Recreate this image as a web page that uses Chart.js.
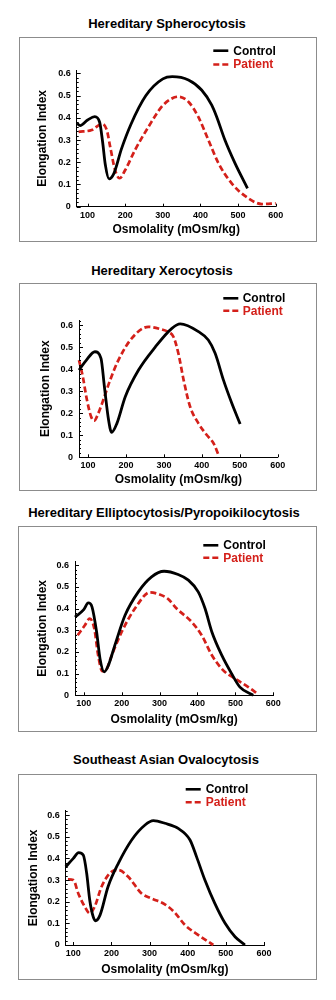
<!DOCTYPE html>
<html>
<head>
<meta charset="utf-8">
<script src="https://cdn.jsdelivr.net/npm/chart.js@4.4.1/dist/chart.umd.min.js"></script>
<style>
  body { margin: 0; background: #fff; width: 336px; height: 1000px; position: relative; font-family: "Liberation Sans", Arial, sans-serif; }
  .title { position: absolute; left: 0; width: 336px; text-align: center; font-weight: bold; font-size: 13px; line-height: 16px; color: #000; white-space: nowrap; }
  .box { position: absolute; border: 1px solid #8c8c8c; box-sizing: border-box; pointer-events: none; }
  canvas { position: absolute; }
</style>
</head>
<body>
<div class="title" style="top:16px;left:-1px">Hereditary Spherocytosis</div>
<canvas id="hs" width="298" height="205" style="left:19px;top:37px"></canvas>
<div class="box" style="left:19px;top:37px;width:298px;height:205px"></div>

<div class="title" style="top:263px;left:-6px">Hereditary Xerocytosis</div>
<canvas id="hx" width="298" height="208" style="left:19px;top:283px"></canvas>
<div class="box" style="left:19px;top:283px;width:298px;height:208px"></div>

<div class="title" style="top:505px;left:-4px">Hereditary Elliptocytosis/Pyropoikilocytosis</div>
<canvas id="he" width="299" height="206" style="left:18px;top:526px"></canvas>
<div class="box" style="left:18px;top:526px;width:299px;height:206px"></div>

<div class="title" style="top:752px;left:-2px">Southeast Asian Ovalocytosis</div>
<canvas id="sao" width="299" height="206" style="left:18px;top:774px"></canvas>
<div class="box" style="left:18px;top:774px;width:299px;height:206px"></div>

<script>
// tick labels
const xTicks = [100, 200, 300, 400, 500, 600];
const yTicks = [0, 0.1, 0.2, 0.3, 0.4, 0.5, 0.6];

// Hereditary Spherocytosis
const hsControlX = [72, 80, 100, 119, 132, 140, 147, 157, 170, 190, 215, 255, 300, 325, 368, 403, 430, 443, 465, 492, 525];
const hsControlY = [0.375, 0.365, 0.39, 0.405, 0.38, 0.29, 0.19, 0.125, 0.15, 0.26, 0.37, 0.50, 0.575, 0.585, 0.57, 0.525, 0.457, 0.405, 0.30, 0.195, 0.083];
const hsPatientX = [76, 111, 138, 151, 160, 173, 185, 200, 226, 262, 297, 324, 341, 368, 394, 421, 448, 483, 527, 563, 600];
const hsPatientY = [0.337, 0.345, 0.372, 0.345, 0.27, 0.165, 0.128, 0.165, 0.255, 0.36, 0.45, 0.487, 0.495, 0.472, 0.405, 0.30, 0.195, 0.105, 0.038, 0.012, 0.015];

// Hereditary Xerocytosis
const hxControlX = [76, 95, 118, 134, 143, 154, 162, 176, 198, 233, 277, 321, 343, 391, 417, 435, 457, 479, 501];
const hxControlY = [0.396, 0.44, 0.479, 0.449, 0.32, 0.169, 0.113, 0.154, 0.275, 0.396, 0.50, 0.585, 0.605, 0.57, 0.532, 0.472, 0.35, 0.245, 0.151];
const hxPatientX = [76, 86, 97, 108, 116, 127, 140, 158, 180, 215, 259, 294, 310, 325, 338, 352, 369, 391, 413, 431, 444];
const hxPatientY = [0.441, 0.366, 0.26, 0.184, 0.166, 0.2, 0.26, 0.35, 0.441, 0.54, 0.592, 0.58, 0.57, 0.547, 0.472, 0.35, 0.23, 0.154, 0.101, 0.063, 0.01];

// Hereditary Elliptocytosis/Pyropoikilocytosis
const heControlX = [77, 100, 112, 122, 134, 143, 154, 165, 182, 209, 244, 279, 312, 349, 376, 402, 420, 438, 464, 490, 512, 547];
const heControlY = [0.361, 0.395, 0.426, 0.407, 0.292, 0.169, 0.108, 0.138, 0.23, 0.369, 0.477, 0.546, 0.572, 0.557, 0.531, 0.477, 0.40, 0.292, 0.185, 0.10, 0.038, 0];
const hePatientX = [84, 103, 116, 128, 138, 149, 158, 174, 200, 235, 275, 300, 322, 345, 385, 411, 438, 468, 499, 534, 560];
const hePatientY = [0.277, 0.323, 0.354, 0.307, 0.185, 0.111, 0.115, 0.185, 0.292, 0.40, 0.475, 0.465, 0.445, 0.40, 0.338, 0.277, 0.185, 0.115, 0.077, 0.038, 0.005];

// Southeast Asian Ovalocytosis
const saoControlX = [80, 100, 114, 126, 135, 143, 152, 158, 170, 191, 218, 253, 288, 310, 340, 375, 406, 423, 445, 471, 498, 524, 550];
const saoControlY = [0.361, 0.40, 0.426, 0.415, 0.331, 0.208, 0.131, 0.112, 0.138, 0.269, 0.377, 0.485, 0.554, 0.574, 0.562, 0.538, 0.485, 0.408, 0.30, 0.192, 0.10, 0.038, 0];
const saoPatientX = [86, 100, 113, 130, 143, 156, 174, 200, 218, 244, 279, 305, 340, 366, 393, 428, 467];
const saoPatientY = [0.303, 0.30, 0.238, 0.177, 0.146, 0.177, 0.269, 0.338, 0.346, 0.315, 0.238, 0.215, 0.188, 0.15, 0.092, 0.046, 0];

const RED = "#d4201a";

Chart.defaults.font.family = '"Liberation Sans", Arial, sans-serif';
Chart.defaults.font.weight = "bold";
Chart.defaults.color = "#000";

function toPoints(xs, ys) {
  return xs.map((x, i) => ({ x: x, y: ys[i] }));
}

// inner tick marks + two-row legend
const decor = {
  id: "decor",
  afterDraw(chart, args, opts) {
    const ctx = chart.ctx;
    const xs = chart.scales.x, ys = chart.scales.y;
    const left = chart.chartArea.left, bottom = chart.chartArea.bottom;
    ctx.save();
    ctx.strokeStyle = "#000";
    ctx.lineWidth = 1;
    ctx.beginPath();
    const n = Math.floor(ys.max / 0.02 + 1e-6);
    for (let k = 0; k <= n; k++) {
      const py = Math.round(ys.getPixelForValue(k * 0.02)) + 0.5;
      const len = k % 5 === 0 ? 4 : 2;
      ctx.moveTo(left, py);
      ctx.lineTo(left + len, py);
    }
    xTicks.forEach(v => {
      const px = Math.round(xs.getPixelForValue(v)) + 0.5;
      ctx.moveTo(px, bottom);
      ctx.lineTo(px, bottom - 3);
    });
    ctx.stroke();

    const lg = opts.legend;
    ctx.font = 'bold 12px "Liberation Sans", Arial, sans-serif';
    ctx.textBaseline = "middle";
    chart.data.datasets.forEach((ds, i) => {
      const yy = lg.rows[i];
      ctx.strokeStyle = ds.borderColor;
      ctx.lineWidth = 2.6;
      ctx.setLineDash(ds.borderDash ? [6, 3] : []);
      ctx.beginPath();
      ctx.moveTo(lg.x0, yy);
      ctx.lineTo(lg.x0 + 15, yy);
      ctx.stroke();
      ctx.setLineDash([]);
      ctx.fillStyle = ds.borderColor;
      ctx.fillText(ds.label, lg.tx, yy + 0.5);
    });
    ctx.restore();
  }
};

function makeChart(id, cx, cy, px, py, p) {
  const canvas = document.getElementById(id);
  const W = canvas.width, H = canvas.height;
  return new Chart(canvas.getContext("2d"), {
    type: "line",
    data: {
      datasets: [
        { label: "Control", data: toPoints(cx, cy), borderColor: "#000", borderWidth: 2.8,
          pointRadius: 0, cubicInterpolationMode: "monotone", fill: false },
        { label: "Patient", data: toPoints(px, py), borderColor: RED, borderWidth: 2.7,
          borderDash: [6, 3], pointRadius: 0, cubicInterpolationMode: "monotone", fill: false }
      ]
    },
    options: {
      responsive: false,
      animation: false,
      devicePixelRatio: 1,
      clip: 8,
      layout: { padding: { left: 0, top: p.top, right: W - p.right, bottom: 0 } },
      plugins: {
        legend: { display: false },
        tooltip: { enabled: false },
        decor: { legend: p.legend }
      },
      scales: {
        x: {
          type: "linear",
          min: p.xMin,
          max: 600,
          grid: { display: false, drawTicks: false },
          border: { display: true, color: "#000", width: 1 },
          ticks: { padding: 3, font: { size: 9, weight: "bold" }, color: "#000", maxRotation: 0, autoSkip: false },
          afterBuildTicks: s => { s.ticks = xTicks.map(v => ({ value: v })); },
          afterFit: s => { s.height = H - p.bottom; },
          title: { display: true, text: "Osmolality (mOsm/kg)", font: { size: 12, weight: "bold" }, color: "#000",
                   padding: { top: 0, bottom: p.xTitlePad } }
        },
        y: {
          min: 0,
          max: p.yMax,
          grid: { display: false, drawTicks: false },
          border: { display: true, color: "#000", width: 1 },
          ticks: { padding: 6, font: { size: 9, weight: "bold" }, color: "#000", autoSkip: false },
          afterBuildTicks: s => { s.ticks = yTicks.map(v => ({ value: v })); },
          afterFit: s => { s.width = p.left; },
          title: { display: true, text: "Elongation Index", font: { size: 12, weight: "bold" }, color: "#000",
                   padding: { top: p.yTitlePad, bottom: 0 } }
        }
      }
    },
    plugins: [decor]
  });
}

makeChart("hs", hsControlX, hsControlY, hsPatientX, hsPatientY, {
  left: 57.7, right: 256.7, top: 33, bottom: 169.7, xMin: 71, yMax: 0.615,
  xTitlePad: 4.8, yTitlePad: 16.5,
  legend: { x0: 194.3, tx: 214.3, rows: [13.7, 27.5] }
});
makeChart("hx", hxControlX, hxControlY, hxPatientX, hxPatientY, {
  left: 60, right: 258.7, top: 37, bottom: 174.3, xMin: 76, yMax: 0.623,
  xTitlePad: 3.8, yTitlePad: 19.5,
  legend: { x0: 204.3, tx: 223.7, rows: [15.3, 27.7] }
});
makeChart("he", heControlX, heControlY, hePatientX, hePatientY, {
  left: 57, right: 255.3, top: 35.3, bottom: 169.3, xMin: 77, yMax: 0.618,
  xTitlePad: 4.8, yTitlePad: 17.5,
  legend: { x0: 185.3, tx: 205.3, rows: [19.3, 31.7] }
});
makeChart("sao", saoControlX, saoControlY, saoPatientX, saoPatientY, {
  left: 47.7, right: 246, top: 36.7, bottom: 171, xMin: 80, yMax: 0.62,
  xTitlePad: 2.8, yTitlePad: 8.1,
  legend: { x0: 167.7, tx: 187.7, rows: [15.3, 28.3] }
});
</script>
</body>
</html>
